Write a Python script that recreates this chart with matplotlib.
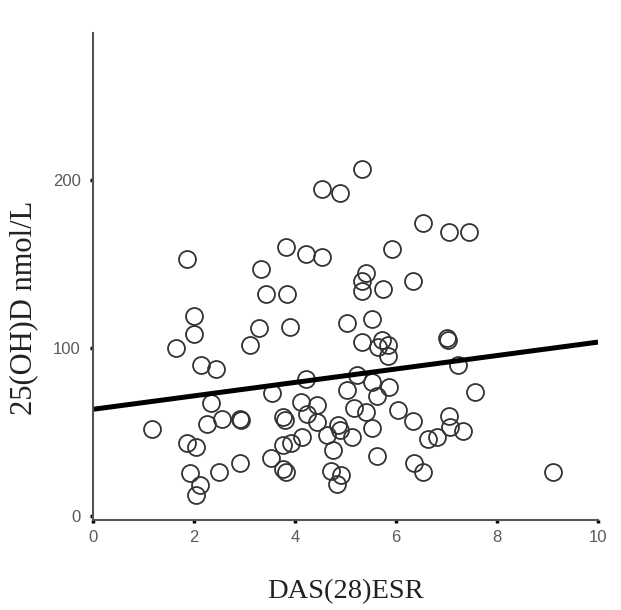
import matplotlib
matplotlib.use('Agg')
import matplotlib.pyplot as plt
import numpy as np

# DAS(28)ESR vs 25(OH)D
das28 = [1.17, 1.64, 1.87, 1.87, 1.99, 2.00, 2.04, 1.93, 2.12, 2.04,
         2.13, 2.44, 2.34, 2.25, 2.55, 2.50, 2.91, 2.93, 2.91, 3.11,
         3.29, 3.32, 3.42, 3.85, 3.82, 3.91, 3.54, 3.52, 3.77, 3.80,
         3.76, 3.93, 3.77, 3.82, 4.21, 4.11, 4.43, 4.24, 4.43, 4.13,
         4.22, 4.53, 4.53, 4.89, 4.63, 4.76, 4.86, 4.89, 4.71, 4.92,
         4.84, 5.02, 5.02, 5.22, 5.16, 5.40, 5.13, 5.33, 5.40, 5.32,
         5.33, 5.32, 5.53, 5.52, 5.62, 5.53, 5.63, 5.74, 5.73, 5.85,
         5.65, 5.85, 5.87, 5.93, 6.04, 6.34, 6.34, 6.36, 6.54, 6.54,
         6.64, 6.81, 7.00, 7.02, 7.04, 7.45, 7.23, 7.56, 7.04, 7.07,
         7.33, 9.11]
vitd = [51.6, 100, 153, 43.7, 119, 108.3, 41.3, 25.4, 18.5, 12.5,
        90, 87.5, 67.5, 54.6, 57.5, 26.4, 58, 57, 31.4, 102,
        112, 147, 132, 132, 160, 112.7, 73, 34.3, 58.7, 57,
        42.3, 43.7, 27.8, 26.4, 81.4, 68, 66, 60.7, 56, 46.8,
        156, 154, 194.5, 192.4, 48, 39.3, 54, 51, 27, 24.4,
        19, 115, 75, 84, 64, 62, 46.8, 206.5, 144.5, 140,
        134, 103.8, 117, 80, 71.4, 52.6, 35.5, 135, 104.5, 102,
        100.5, 95.5, 77, 159, 63, 140, 56.7, 31.4, 26, 174.6,
        45.6, 46.8, 105.8, 104.5, 169, 169, 90, 73.6, 59.5, 53,
        50.6, 26.4]

# fitted line
intercept = 63.5
slope = 4.0

xticks = [0, 2, 4, 6, 8, 10]
yticks = [0, 100, 200]

fig = plt.figure(figsize=(6.21, 6.10), dpi=100)
ax = fig.add_axes([0.1498, 0.1475, 0.8132, 0.7985])

ax.plot(das28, vitd, 'o', markersize=12.2, markerfacecolor='none',
        markeredgecolor='#333333', markeredgewidth=1.3, linestyle='none')

xl = np.array([0, 10])
ax.plot(xl, intercept + slope * xl, color='black', linewidth=3.6,
        solid_capstyle='butt')

ax.set_xlim(0, 10)
ax.set_ylim(-2.4, 287.5)
ax.set_xticks(xticks)
ax.set_yticks(yticks)

for s in ['top', 'right']:
    ax.spines[s].set_visible(False)
for s in ['left', 'bottom']:
    ax.spines[s].set_color('#555555')
    ax.spines[s].set_linewidth(1.5)

ax.tick_params(direction='out', length=2, width=2.5, color='black',
               labelcolor='#5a5a5a', labelsize=12)
ax.tick_params(axis='y', pad=7)
ax.tick_params(axis='x', pad=5)
for lab in ax.get_xticklabels() + ax.get_yticklabels():
    lab.set_family('Liberation Sans')

ax.set_xlabel('DAS(28)ESR', family='Liberation Serif', fontsize=20.5,
              color='#222222', labelpad=25)
ax.set_ylabel('25(OH)D nmol/L', family='Liberation Serif', fontsize=22,
              color='#222222')
ax.yaxis.set_label_coords(-0.108, 0.435)

fig.savefig('out.png', dpi=100, facecolor='white')
